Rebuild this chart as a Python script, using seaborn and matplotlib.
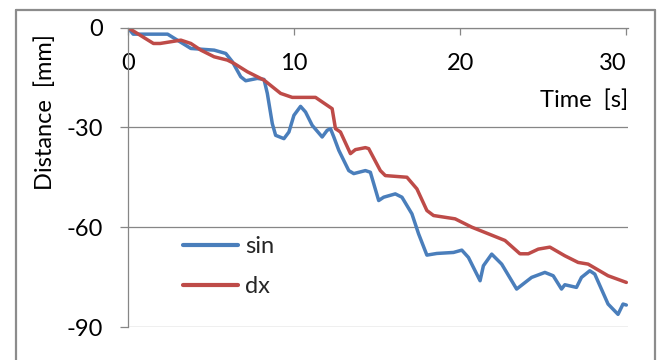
import numpy as np
import pandas as pd
import matplotlib
matplotlib.use("Agg")
import matplotlib.pyplot as plt
import seaborn as sns
from matplotlib.lines import Line2D

# ---- data ----
t_sin = [0, 0.33, 2.4, 3.8, 5.2, 5.9, 6.3, 6.8, 7.1, 7.8, 8.2, 8.4, 8.7, 8.9, 9.4, 9.7,
         10.0, 10.4, 10.7, 11.1, 11.7, 12.0, 12.2, 12.4, 12.7, 13.3, 13.6, 14.3, 14.6,
         15.1, 15.4, 16.1, 16.5, 17.1, 17.5, 18.0, 18.6, 19.6, 20.1, 20.5, 21.2, 21.4,
         21.9, 22.5, 23.4, 24.3, 25.1, 25.6, 26.1, 26.3, 27.0, 27.3, 27.8, 28.1, 28.9,
         29.5, 29.8, 30.0]
sin_vals = [0, -2.0, -2.0, -6.3, -6.8, -7.8, -10.3, -14.8, -16.0, -15.3, -15.6, -19.8,
            -28.9, -32.4, -33.4, -31.4, -26.4, -23.7, -25.4, -29.4, -32.9, -30.9, -30.4,
            -32.9, -36.9, -43.0, -43.9, -43.0, -43.5, -52.0, -51.0, -50.0, -51.0, -56.0,
            -62.0, -68.4, -67.9, -67.6, -66.9, -69.1, -76.1, -71.6, -68.1, -71.1, -78.6,
            -75.1, -73.6, -74.6, -78.6, -77.3, -78.1, -75.1, -73.1, -74.1, -83.1, -86.2,
            -83.1, -83.4]

t_dx = [0, 1.55, 1.95, 3.2, 3.8, 4.4, 5.2, 6.0, 6.4, 7.2, 8.2, 9.2, 9.9, 11.3, 12.3,
        12.5, 12.8, 13.4, 13.7, 14.3, 14.5, 15.2, 15.5, 16.8, 17.4, 18.0, 18.4, 19.7,
        20.7, 21.7, 22.7, 23.6, 24.1, 24.7, 25.4, 26.3, 27.1, 27.7, 28.9, 30.0]
dx_vals = [0, -4.8, -4.8, -3.8, -4.8, -6.8, -8.8, -9.8, -10.8, -13.3, -15.8, -19.8,
           -21.0, -21.0, -24.4, -30.4, -31.4, -37.9, -36.7, -36.1, -36.4, -43.0, -44.5,
           -45.0, -48.5, -55.0, -56.5, -57.5, -60.0, -62.0, -64.0, -68.0, -68.0, -66.6,
           -66.0, -68.6, -70.6, -71.1, -74.6, -76.6]

series_names = ["sin", "dx"]
x_ticks = [0, 10, 20, 30]
y_ticks = [0, -30, -60, -90]

df = pd.concat([
    pd.DataFrame({"t": t_sin, "d": sin_vals, "series": "sin"}),
    pd.DataFrame({"t": t_dx, "d": dx_vals, "series": "dx"}),
], ignore_index=True)

# ---- style ----
sns.set_theme(style="white")
plt.rcParams["font.family"] = ["Lato", "DejaVu Sans"]
plt.rcParams["axes.unicode_minus"] = False

fig = plt.figure(figsize=(6.59, 3.60), dpi=100)
ax = fig.add_axes([127.7 / 659, 1 - 327 / 360, (628 - 127.7) / 659, (327 - 27.5) / 360])

palette = {"sin": "#4A7EBB", "dx": "#BE4B48"}
sns.lineplot(data=df, x="t", y="d", hue="series", hue_order=series_names,
             palette=palette, estimator=None, sort=False, linewidth=2.5, ax=ax,
             legend=True)

ax.set_xlim(0, 30.1)
ax.set_ylim(-90, 0)
ax.set_xticks(x_ticks)
ax.set_yticks(y_ticks)
ax.set_xticklabels([str(v) for v in x_ticks])
ax.set_yticklabels([str(v) for v in y_ticks])

grid_c = "#868686"
for y in y_ticks:
    ax.axhline(y, color=grid_c, lw=0.9, zorder=0.5)

for s in ["top", "right"]:
    ax.spines[s].set_visible(False)
ax.spines["bottom"].set_position(("data", 0))
ax.spines["bottom"].set_color(grid_c)
ax.spines["bottom"].set_linewidth(0.9)
ax.spines["left"].set_color(grid_c)
ax.spines["left"].set_linewidth(0.9)

ax.tick_params(axis="x", direction="out", length=5, width=0.9, color=grid_c,
               pad=13, labelsize=17, labelcolor="#000000", bottom=True)
ax.tick_params(axis="y", direction="out", length=6, width=0.9, color=grid_c,
               pad=12, labelsize=17, labelcolor="#000000", left=True)
# Excel keeps the last category label inside the plot area
xt = ax.get_xticklabels()
xt[-1].set_horizontalalignment("right")
xt[-1].set_x(30.1)

ax.set_xlabel("")
ax.set_ylabel("")
fig.text(628 / 659, 1 - 100 / 360, "Time  [s]", ha="right", va="center", fontsize=17,
         color="#000000")
fig.text(45 / 659, 1 - 112 / 360, "Distance  [mm]", ha="center", va="center",
         rotation=90, fontsize=17, color="#000000")

leg = ax.legend(loc="upper left", bbox_to_anchor=(183 / 659, 1 - 236 / 360),
                bbox_transform=fig.transFigure, frameon=False, fontsize=17,
                handlelength=2.33, handletextpad=0.3, labelspacing=0.82,
                borderpad=0, borderaxespad=0)
for h in leg.get_lines():
    h.set_linewidth(3)

# chart border (Excel chart area)
border_c = "#8c8c8c"
fig.add_artist(Line2D([15.5 / 659, 15.5 / 659], [0, 1 - 10 / 360], color=border_c,
                      lw=1.6, transform=fig.transFigure))
fig.add_artist(Line2D([15.5 / 659, 655 / 659], [1 - 10 / 360, 1 - 10 / 360],
                      color=border_c, lw=1.6, transform=fig.transFigure))
fig.add_artist(Line2D([655 / 659, 655 / 659], [0, 1 - 10 / 360], color=border_c,
                      lw=1.6, transform=fig.transFigure))

fig.savefig("out.png", dpi=100)
